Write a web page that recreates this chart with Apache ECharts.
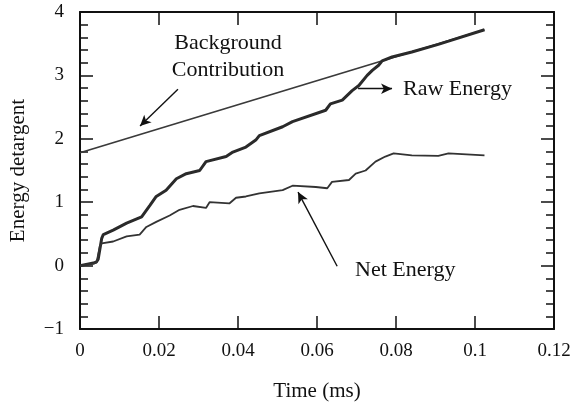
<!DOCTYPE html>
<html>
<head>
<meta charset="utf-8">
<script src="https://cdn.jsdelivr.net/npm/echarts@6/dist/echarts.min.js"></script>
<style>html,body{margin:0;padding:0;background:#fff;}#c{width:576px;height:407px;}</style>
</head>
<body>
<div id="c"></div>
<script>
// Raw energy (time ms, energy)
const rawX = [0, 0.0034, 0.0042, 0.0046, 0.0055, 0.0059, 0.0084, 0.0118, 0.0156, 0.0177, 0.0193, 0.0218, 0.0244, 0.0269, 0.0303, 0.0319, 0.0370, 0.0387, 0.0420, 0.0445, 0.0454, 0.0513, 0.0538, 0.0622, 0.0634, 0.0664, 0.0689, 0.0706, 0.0727, 0.0740, 0.0756, 0.0765, 0.0790, 0.0840, 0.0907, 0.0933, 0.1024];
const rawY = [0, 0.04, 0.06, 0.10, 0.43, 0.49, 0.56, 0.67, 0.77, 0.95, 1.09, 1.19, 1.37, 1.45, 1.50, 1.64, 1.72, 1.79, 1.87, 1.98, 2.05, 2.19, 2.27, 2.45, 2.55, 2.61, 2.76, 2.84, 3.00, 3.08, 3.16, 3.23, 3.29, 3.37, 3.49, 3.54, 3.72];
// Net energy
const netX = [0, 0.0034, 0.0042, 0.0050, 0.0055, 0.0084, 0.0118, 0.0151, 0.0168, 0.0193, 0.0227, 0.0252, 0.0286, 0.0319, 0.0328, 0.0378, 0.0395, 0.0420, 0.0454, 0.0513, 0.0538, 0.0597, 0.0626, 0.0638, 0.0681, 0.0698, 0.0723, 0.0748, 0.0773, 0.0794, 0.0840, 0.0907, 0.0933, 0.1024];
const netY = [0, 0.03, 0.05, 0.30, 0.35, 0.38, 0.46, 0.49, 0.61, 0.69, 0.79, 0.88, 0.94, 0.91, 1.00, 0.98, 1.07, 1.09, 1.14, 1.19, 1.26, 1.24, 1.22, 1.32, 1.35, 1.45, 1.50, 1.64, 1.72, 1.77, 1.74, 1.73, 1.77, 1.74];
// Background contribution (straight line)
const bgX = [0, 0.1024];
const bgY = [1.78, 3.72];
// Axis ticks
const xTicks = [0, 0.02, 0.04, 0.06, 0.08, 0.1, 0.12];
const yTicks = [-1, 0, 1, 2, 3, 4];

const zip = (a, b) => a.map((v, i) => [v, b[i]]);
const FONT = '"Liberation Serif", "Times New Roman", serif';
const INK = '#111';

const chart = echarts.init(document.getElementById('c'), null, {renderer: 'canvas'});

const tickCommon = {show: true, inside: true, length: 13, lineStyle: {color: INK, width: 1.5}};
const lineCommon = {show: true, onZero: false, lineStyle: {color: INK, width: 2}};

const arrowLine = (x1, y1, x2, y2) => [
  {coord: [x1, y1], symbol: 'none'},
  {coord: [x2, y2], symbol: 'arrow', symbolSize: [8, 11]}
];

chart.setOption({
  animation: false,
  grid: {left: 80, right: 22, top: 12, bottom: 76, containLabel: false},
  xAxis: [
    {
      type: 'value', min: xTicks[0], max: xTicks[xTicks.length - 1], interval: 0.02,
      position: 'bottom',
      axisLine: lineCommon, axisTick: tickCommon,
      splitLine: {show: false},
      axisLabel: {fontFamily: FONT, fontSize: 19, color: INK, margin: 13},
      name: 'Time (ms)', nameLocation: 'middle', nameGap: 52,
      nameTextStyle: {fontFamily: FONT, fontSize: 21, color: INK}
    },
    {
      type: 'value', min: xTicks[0], max: xTicks[xTicks.length - 1], interval: 0.02,
      position: 'top',
      axisLine: lineCommon, axisTick: tickCommon,
      splitLine: {show: false}, axisLabel: {show: false}
    }
  ],
  yAxis: [
    {
      type: 'value', min: yTicks[0], max: yTicks[yTicks.length - 1], interval: 1,
      position: 'left',
      axisLine: lineCommon, axisTick: tickCommon,
      minorTick: {show: true, splitNumber: 5, length: 8, lineStyle: {color: INK, width: 1.5}},
      splitLine: {show: false},
      axisLabel: {fontFamily: FONT, fontSize: 19, color: INK, margin: 16,
        formatter: v => String(v).replace('-', '\u2212')},
      name: 'Energy detargent', nameLocation: 'middle', nameGap: 51,
      nameTextStyle: {fontFamily: FONT, fontSize: 21, color: INK}
    },
    {
      type: 'value', min: yTicks[0], max: yTicks[yTicks.length - 1], interval: 1,
      position: 'right',
      axisLine: lineCommon, axisTick: tickCommon,
      minorTick: {show: true, splitNumber: 5, length: 8, lineStyle: {color: INK, width: 1.5}},
      splitLine: {show: false}, axisLabel: {show: false}
    }
  ],
  series: [
    {
      name: 'Background', type: 'line', data: zip(bgX, bgY), showSymbol: false,
      lineStyle: {color: '#3a3a3a', width: 1.8},
      markLine: {
        silent: true, label: {show: false},
        lineStyle: {color: INK, width: 1.4, type: 'solid'},
        data: [
          arrowLine(0.0248, 2.78, 0.0152, 2.20),
          arrowLine(0.0704, 2.79, 0.0790, 2.79),
          arrowLine(0.0651, -0.01, 0.0552, 1.16)
        ]
      }
    },
    {
      name: 'Raw Energy', type: 'line', data: zip(rawX, rawY), showSymbol: false,
      lineStyle: {color: '#2a2a2a', width: 3}
    },
    {
      name: 'Net Energy', type: 'line', data: zip(netX, netY), showSymbol: false,
      lineStyle: {color: '#333', width: 1.8}
    }
  ],
  graphic: [
    {type: 'text', x: 228, y: 43, style: {text: 'Background', font: '22px ' + FONT, fill: INK, textAlign: 'center', textVerticalAlign: 'middle'}},
    {type: 'text', x: 228, y: 70, style: {text: 'Contribution', font: '22px ' + FONT, fill: INK, textAlign: 'center', textVerticalAlign: 'middle'}},
    {type: 'text', x: 403, y: 89, style: {text: 'Raw Energy', font: '22px ' + FONT, fill: INK, textAlign: 'left', textVerticalAlign: 'middle'}},
    {type: 'text', x: 355, y: 270, style: {text: 'Net Energy', font: '22px ' + FONT, fill: INK, textAlign: 'left', textVerticalAlign: 'middle'}}
  ]
});
</script>
</body>
</html>
